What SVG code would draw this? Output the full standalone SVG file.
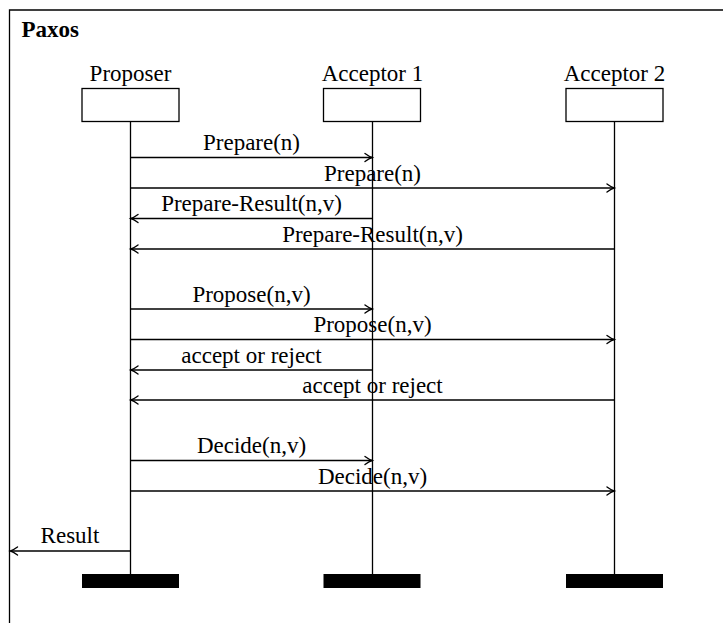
<svg xmlns="http://www.w3.org/2000/svg" width="723" height="623" viewBox="0 0 723 623">
  <defs>
    <marker id="arrow" markerUnits="userSpaceOnUse" markerWidth="12" markerHeight="12" viewBox="-8 -6 10 12" refX="0" refY="0" orient="auto">
      <path d="M-7,-4 Q-2.5,-0.8 0,0 Q-2.5,0.8 -7,4" fill="none" stroke="#000" stroke-width="1.4" stroke-linecap="round"/>
    </marker>
  </defs>
  <style>
    .lbl { font-size: 23px; fill: #000; text-anchor: middle; }
    .title { font-weight: bold; text-anchor: start; }
    .head { fill: #fff; stroke: #000; stroke-width: 1.3; }
    .life { stroke: #000; stroke-width: 1.3; }
    .bar { fill: #000; }
    .msg { stroke: #000; stroke-width: 1.3; fill: none; marker-end: url(#arrow); }
  </style>
  <rect width="723" height="623" fill="#fff"/>

  <g font-family="Liberation Serif, DejaVu Serif, serif">
  <!-- enclosing frame (right and bottom edges lie outside the canvas) -->
  <path d="M9.5,623 V10 H723" fill="none" stroke="#000" stroke-width="1.3"/>
  <text class="lbl title" x="21.5" y="36.5">Paxos</text>

  <g id="proposer">
    <text class="lbl" x="130.5" y="81">Proposer</text>
    <rect class="head" x="82" y="88.5" width="97" height="33"/>
    <line class="life" x1="130.5" y1="121.5" x2="130.5" y2="574"/>
    <rect class="bar" x="82" y="574" width="97" height="14"/>
  </g>

  <g id="acceptor1">
    <text class="lbl" x="372.5" y="81">Acceptor 1</text>
    <rect class="head" x="323.5" y="88.5" width="97" height="33"/>
    <line class="life" x1="372.5" y1="121.5" x2="372.5" y2="574"/>
    <rect class="bar" x="323.5" y="574" width="97" height="14"/>
  </g>

  <g id="acceptor2">
    <text class="lbl" x="614.5" y="81">Acceptor 2</text>
    <rect class="head" x="566" y="88.5" width="97" height="33"/>
    <line class="life" x1="614.5" y1="121.5" x2="614.5" y2="574"/>
    <rect class="bar" x="566" y="574" width="97" height="14"/>
  </g>

  <g id="messages">
    <line class="msg" x1="130.5" y1="157.5" x2="372" y2="157.5"/>
    <text class="lbl" x="251.5" y="150">Prepare(n)</text>
    <line class="msg" x1="130.5" y1="188" x2="614" y2="188"/>
    <text class="lbl" x="372.5" y="180.5">Prepare(n)</text>
    <line class="msg" x1="372.5" y1="218.5" x2="131" y2="218.5"/>
    <text class="lbl" x="251.5" y="211">Prepare-Result(n,v)</text>
    <line class="msg" x1="614.5" y1="249" x2="131" y2="249"/>
    <text class="lbl" x="372.5" y="241.5">Prepare-Result(n,v)</text>

    <line class="msg" x1="130.5" y1="309" x2="372" y2="309"/>
    <text class="lbl" x="251.5" y="301.5">Propose(n,v)</text>
    <line class="msg" x1="130.5" y1="339.5" x2="614" y2="339.5"/>
    <text class="lbl" x="372.5" y="332">Propose(n,v)</text>
    <line class="msg" x1="372.5" y1="370" x2="131" y2="370"/>
    <text class="lbl" x="251.5" y="362.5">accept or reject</text>
    <line class="msg" x1="614.5" y1="400" x2="131" y2="400"/>
    <text class="lbl" x="372.5" y="392.5">accept or reject</text>

    <line class="msg" x1="130.5" y1="460.5" x2="372" y2="460.5"/>
    <text class="lbl" x="251.5" y="453">Decide(n,v)</text>
    <line class="msg" x1="130.5" y1="491" x2="614" y2="491"/>
    <text class="lbl" x="372.5" y="483.5">Decide(n,v)</text>

    <line class="msg" x1="130.5" y1="551" x2="10.5" y2="551"/>
    <text class="lbl" x="70" y="543">Result</text>
  </g>
  </g>
</svg>
